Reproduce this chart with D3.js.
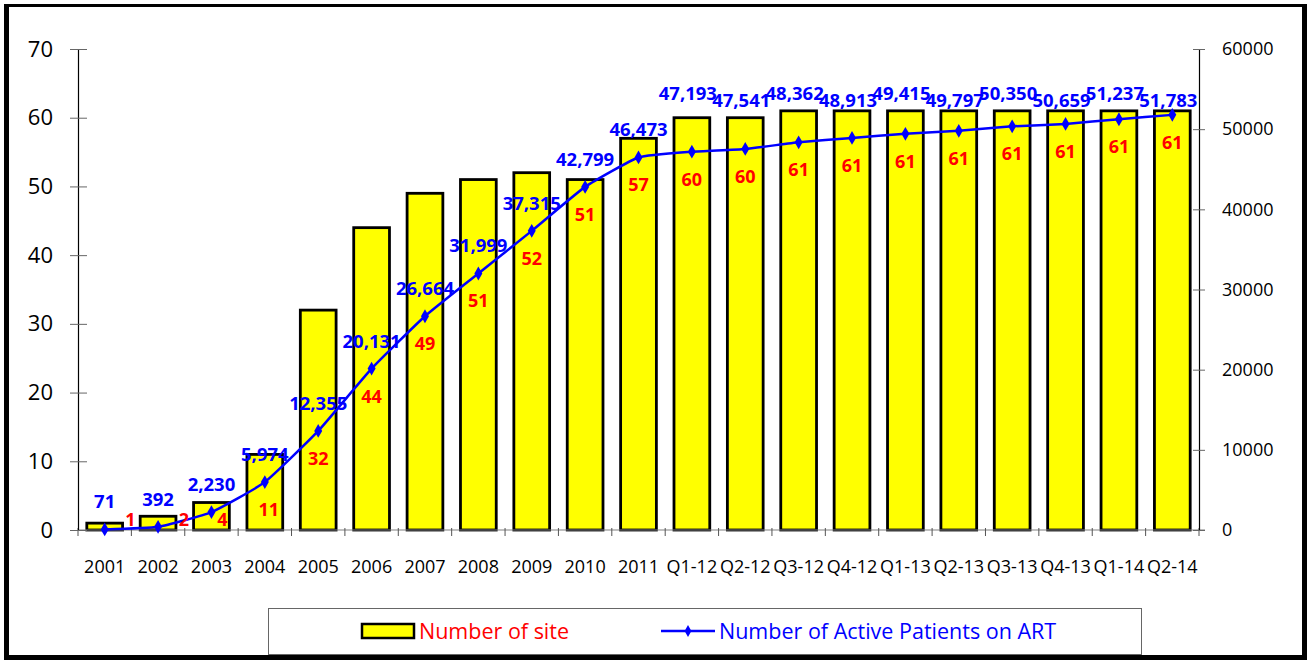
<!DOCTYPE html>
<html>
<head>
<meta charset="utf-8">
<script src="https://cdn.jsdelivr.net/npm/d3@7"></script>
<style>
  body { margin: 0; background: #fff; }
  svg { display: block; }
  text { font-family: "Open Sans", "DejaVu Sans", sans-serif; }
</style>
</head>
<body>
<div id="chart"></div>
<script>
// data
const categories = ["2001", "2002", "2003", "2004", "2005", "2006", "2007", "2008", "2009", "2010", "2011",
  "Q1-12", "Q2-12", "Q3-12", "Q4-12", "Q1-13", "Q2-13", "Q3-13", "Q4-13", "Q1-14", "Q2-14"];
const sites = [1, 2, 4, 11, 32, 44, 49, 51, 52, 51, 57, 60, 60, 61, 61, 61, 61, 61, 61, 61, 61];
const patients = [71, 392, 2230, 5974, 12355, 20131, 26664, 31999, 37315, 42799, 46473,
  47193, 47541, 48362, 48913, 49415, 49797, 50350, 50659, 51237, 51783];
const leftTicks = [0, 10, 20, 30, 40, 50, 60, 70];
const rightTicks = [0, 10000, 20000, 30000, 40000, 50000, 60000];
const legendNames = ["Number of site", "Number of Active Patients on ART"];

const W = 1311, H = 662;
const plotLeft = 78, plotRight = 1199, plotTop = 49, plotBottom = 530;

const svg = d3.select("#chart").append("svg")
  .attr("width", W).attr("height", H);

// outer frame (thicker on left / right / bottom)
svg.append("rect").attr("x", 4).attr("y", 4).attr("width", 1303).attr("height", 656).attr("fill", "#000");
svg.append("rect").attr("x", 9).attr("y", 7).attr("width", 1293).attr("height", 648).attr("fill", "#fff");

const x = d3.scaleBand().domain(categories).range([plotLeft, plotRight])
  .paddingInner(0.33).paddingOuter(0.165);
const yL = d3.scaleLinear().domain([0, 70]).range([plotBottom, plotTop]);
const yR = d3.scaleLinear().domain([0, 60000]).range([plotBottom, plotTop]);

// bars
svg.selectAll(".bar")
  .data(sites)
  .enter()
  .append("rect")
  .attr("class", "bar")
  .attr("x", (d, i) => x(categories[i]))
  .attr("y", d => yL(d))
  .attr("width", x.bandwidth())
  .attr("height", d => yL(0) - yL(d))
  .attr("fill", "#ffff00")
  .attr("stroke", "#000")
  .attr("stroke-width", 2.8);

// x axis line + category ticks on band boundaries
svg.append("line")
  .attr("x1", plotLeft).attr("x2", plotRight + 6)
  .attr("y1", plotBottom).attr("y2", plotBottom)
  .attr("stroke", "#808080").attr("stroke-width", 1.2);
svg.selectAll(".xtick")
  .data(d3.range(categories.length + 1))
  .enter()
  .append("line")
  .attr("x1", i => plotLeft + i * x.step())
  .attr("x2", i => plotLeft + i * x.step())
  .attr("y1", plotBottom - 2).attr("y2", plotBottom + 6)
  .attr("stroke", "#555").attr("stroke-width", 1);
svg.selectAll(".xlab")
  .data(categories)
  .enter()
  .append("text")
  .attr("x", d => x(d) + x.bandwidth() / 2)
  .attr("y", 573)
  .attr("text-anchor", "middle")
  .attr("font-size", 18)
  .attr("fill", "#000")
  .text(d => d);

// left axis
const axL = svg.append("g")
  .attr("transform", `translate(${plotLeft},0)`)
  .call(d3.axisLeft(yL).tickValues(leftTicks).tickSize(8).tickPadding(17));
axL.select(".domain").attr("stroke", "#000").attr("stroke-width", 1.2);
axL.selectAll(".tick line").attr("x1", 9).attr("stroke", "#666");
axL.selectAll(".tick text")
  .attr("font-size", 22).attr("fill", "#000")
  .style("font-family", "'Open Sans', sans-serif");

// right axis
const axR = svg.append("g")
  .attr("transform", `translate(${plotRight},0)`)
  .call(d3.axisRight(yR).tickValues(rightTicks).tickFormat(d3.format("d")).tickSize(6).tickPadding(17));
axR.select(".domain").attr("stroke", "#000").attr("stroke-width", 1.2);
axR.selectAll(".tick line").attr("x1", -6).attr("stroke", "#666");
axR.selectAll(".tick text")
  .attr("font-size", 18).attr("fill", "#000")
  .style("font-family", "'Open Sans', sans-serif");

// patients line
const pts = patients.map((v, i) => [x(categories[i]) + x.bandwidth() / 2, yR(v)]);
svg.append("path")
  .attr("d", d3.line().curve(d3.curveCardinal.tension(0.55))(pts))
  .attr("fill", "none")
  .attr("stroke", "#0000ff")
  .attr("stroke-width", 2.5);
svg.selectAll(".dot")
  .data(pts)
  .enter()
  .append("path")
  .attr("transform", d => `translate(${d[0]},${d[1]})`)
  .attr("d", d3.symbol(d3.symbolDiamond).size(55))
  .attr("fill", "#0000ff");

// blue value labels; the ones near the top sit in a staggered row above the bars
const fmt = d3.format(",");
svg.selectAll(".plab")
  .data(patients)
  .enter()
  .append("text")
  .attr("x", (d, i) => pts[i][0] - (pts[i][1] < plotTop + 105 ? 4 : 0))
  .attr("y", (d, i) => pts[i][1] < plotTop + 105 ? plotTop + 51 + (i % 2 === 0 ? 7 : 0) : pts[i][1] - 21)
  .attr("text-anchor", "middle")
  .attr("font-size", 18.5)
  .attr("font-weight", "bold")
  .attr("fill", "#0000ff")
  .text(d => fmt(d));

// red site labels
svg.selectAll(".slab")
  .data(sites)
  .enter()
  .append("text")
  .attr("x", (d, i) => {
    const h = yL(0) - yL(d);
    return pts[i][0] + (h < 20 ? x.bandwidth() * 0.72 : (h < 40 ? 11 : (h < 80 ? 4 : 0)));
  })
  .attr("y", (d, i) => Math.min(pts[i][1] + 34, plotBottom - 4))
  .attr("text-anchor", "middle")
  .attr("font-size", 18)
  .attr("font-weight", "bold")
  .attr("fill", "#ff0000")
  .text(d => d);

// legend
const lg = svg.append("g");
lg.append("rect")
  .attr("x", 268.5).attr("y", 608.5).attr("width", 873).attr("height", 46)
  .attr("fill", "#fff").attr("stroke", "#666").attr("stroke-width", 1);
lg.append("rect")
  .attr("x", 362).attr("y", 624).attr("width", 52).attr("height", 14)
  .attr("fill", "#ffff00").attr("stroke", "#000").attr("stroke-width", 2.5);
lg.append("text")
  .attr("x", 419).attr("y", 639)
  .attr("font-size", 21.5).attr("fill", "#ff0000")
  .text(legendNames[0]);
lg.append("line")
  .attr("x1", 661).attr("x2", 715).attr("y1", 631).attr("y2", 631)
  .attr("stroke", "#0000ff").attr("stroke-width", 2.5);
lg.append("path")
  .attr("transform", "translate(688,631)")
  .attr("d", d3.symbol(d3.symbolDiamond).size(40))
  .attr("fill", "#0000ff");
lg.append("text")
  .attr("x", 719).attr("y", 639)
  .attr("font-size", 21.5).attr("fill", "#0000ff")
  .text(legendNames[1]);
</script>
</body>
</html>
